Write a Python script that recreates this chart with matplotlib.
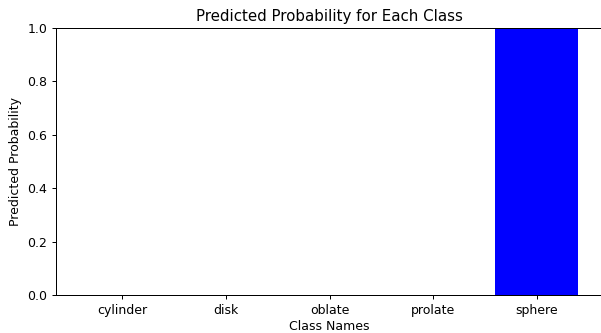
import matplotlib
matplotlib.use("Agg")
import matplotlib.pyplot as plt

class_names = ["cylinder", "disk", "oblate", "prolate", "sphere"]
probabilities = [0.0, 0.0, 0.0, 0.0, 1.0]

# text in the original matches roughly 90 dpi rendering
dpi = 90
fig = plt.figure(figsize=(601 / dpi, 333 / dpi), dpi=dpi)
# axes run slightly past the right edge, as in the cropped original
ax = fig.add_axes([56 / 601, 38 / 333, 547 / 601, 267 / 333])

ax.bar(class_names, probabilities, color="blue")
ax.set_ylim(0, 1)
ax.set_title("Predicted Probability for Each Class")
ax.set_xlabel("Class Names", labelpad=3)
ax.set_ylabel("Predicted Probability")

fig.savefig("out.png", dpi=dpi)
